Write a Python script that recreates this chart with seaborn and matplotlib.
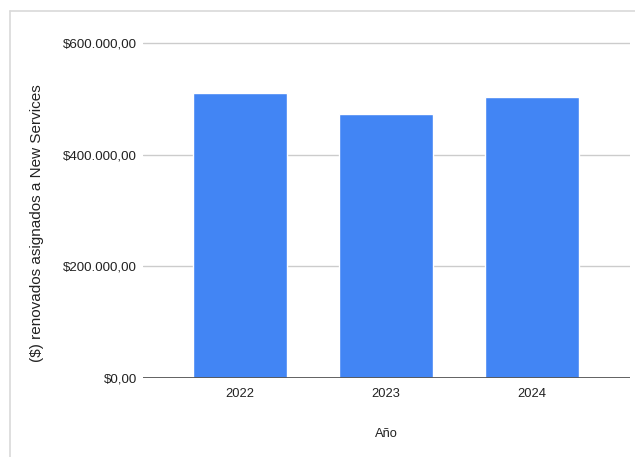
import matplotlib
matplotlib.use("Agg")
import matplotlib.pyplot as plt
import seaborn as sns
import pandas as pd
from matplotlib.lines import Line2D

years = ["2022", "2023", "2024"]
values = [509500, 473000, 503500]
yticks = [0, 200000, 400000, 600000]
ytick_labels = ["$0,00", "$200.000,00", "$400.000,00", "$600.000,00"]
x_title = "Año"
y_title = "($) renovados asignados a New Services"

sns.set_theme(style="white")
plt.rcParams['font.family'] = ['Liberation Sans', 'DejaVu Sans']

W, H = 635, 457
fig = plt.figure(figsize=(W / 100, H / 100), dpi=100)
fig.patch.set_facecolor("white")

y0_px = 378.3
scale = (378.3 - 42.7) / 600000
ymax = 610000
top_px = y0_px - ymax * scale
ax = fig.add_axes([143 / W, 1 - y0_px / H, (630 - 143) / W, (y0_px - top_px) / H])

df = pd.DataFrame({"year": years, "value": values})
sns.barplot(data=df, x="year", y="value", color="#4285F4", saturation=1,
            width=0.645, ax=ax)

ax.set_xlim(-0.665, 2.67)
ax.set_ylim(0, ymax)
ax.set_yticks(yticks)
ax.set_yticklabels(ytick_labels)
for y in yticks[1:]:
    ax.axhline(y, color="#cccccc", lw=1.0, zorder=0)
ax.axhline(0, color="#555555", lw=1.3, zorder=3)
for s in ax.spines.values():
    s.set_visible(False)
ax.tick_params(axis="y", length=0, pad=4.5, labelsize=9.6, labelcolor="#222222")
ax.tick_params(axis="x", length=0, pad=7, labelsize=9.3, labelcolor="#222222")
ax.set_xlabel("")
ax.set_ylabel("")

fig.text(37 / W, 1 - 223.5 / H, y_title, rotation=90, ha="center", va="center",
         fontsize=11, color="#222222")
fig.text(386 / W, 1 - 434 / H, x_title, ha="center", va="center",
         fontsize=9.3, color="#222222")

# light frame at left/top
fig.add_artist(Line2D([9.5 / W, 9.5 / W], [0, 1 - 11 / H], transform=fig.transFigure,
                      color="#d9d9d9", lw=1.2))
fig.add_artist(Line2D([9.5 / W, 1], [1 - 11 / H, 1 - 11 / H], transform=fig.transFigure,
                      color="#d9d9d9", lw=1.2))

fig.savefig("out.png", dpi=100)
